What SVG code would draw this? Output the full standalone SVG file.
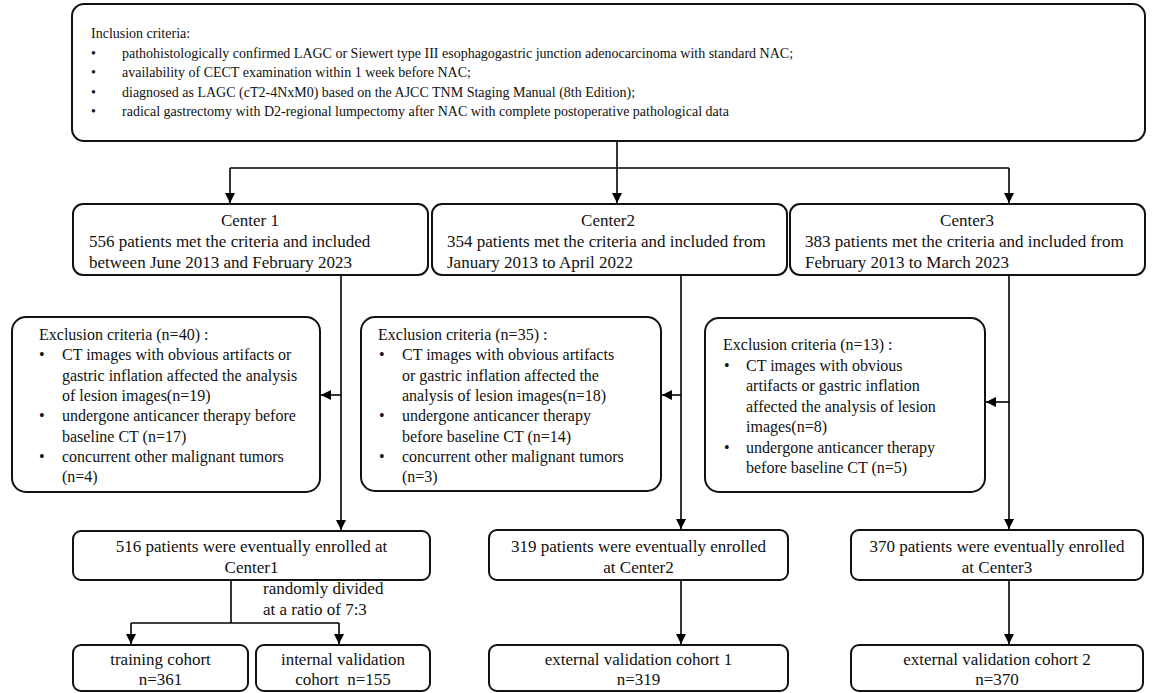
<svg xmlns="http://www.w3.org/2000/svg" width="1154" height="693" viewBox="0 0 1154 693">
<defs>
<marker id="ah" viewBox="0 0 10 10" refX="10" refY="5" markerWidth="10" markerHeight="10" markerUnits="userSpaceOnUse" orient="auto"><path d="M0,0 L10,5 L0,10 z" fill="#000"/></marker>
<style>
.box{fill:#fff;stroke:#111;stroke-width:2}
.t{font-family:"Liberation Serif","Times New Roman",serif;fill:#111}
.s14{font-size:14px}
.s16{font-size:16px}
.s17{font-size:17px}
.c{text-anchor:middle}
.con path{fill:none;stroke:#000;stroke-width:1.6}
.arr{marker-end:url(#ah)}
</style>
</defs>
<rect width="1154" height="693" fill="#fff"/>

<g id="inclusion">
<rect class="box" x="72" y="4" width="1073" height="137" rx="12"/>
<text class="t s14" x="91" y="38">Inclusion criteria:</text>
<text class="t s14" x="91" y="57.5">•</text><text class="t s14" x="122" y="57.5">pathohistologically confirmed LAGC or Siewert type III esophagogastric junction adenocarcinoma with standard NAC;</text>
<text class="t s14" x="91" y="77">•</text><text class="t s14" x="122" y="77">availability of CECT examination within 1 week before NAC;</text>
<text class="t s14" x="91" y="96.5">•</text><text class="t s14" x="122" y="96.5">diagnosed as LAGC (cT2-4NxM0) based on the AJCC TNM Staging Manual (8th Edition);</text>
<text class="t s14" x="91" y="116">•</text><text class="t s14" x="122" y="116">radical gastrectomy with D2-regional lumpectomy after NAC with complete postoperative pathological data</text>
</g>

<g id="center1">
<rect class="box" x="73" y="204" width="355" height="71" rx="10"/>
<text class="t s17 c" x="250" y="226">Center 1</text>
<text class="t s17" x="89" y="247">556 patients met the criteria and included</text>
<text class="t s17" x="89" y="267.5">between June 2013 and February 2023</text>
</g>
<g id="center2">
<rect class="box" x="432" y="204" width="355" height="71" rx="10"/>
<text class="t s17 c" x="608" y="226">Center2</text>
<text class="t s17" x="447" y="247">354 patients met the criteria and included from</text>
<text class="t s17" x="447" y="267.5">January 2013 to April 2022</text>
</g>
<g id="center3">
<rect class="box" x="790" y="204" width="355" height="71" rx="10"/>
<text class="t s17 c" x="967" y="226">Center3</text>
<text class="t s17" x="805" y="247">383 patients met the criteria and included from</text>
<text class="t s17" x="805" y="267.5">February 2013 to March 2023</text>
</g>

<g id="exclusion1">
<rect class="box" x="12" y="317" width="308" height="175" rx="14"/>
<text class="t s16" x="39" y="340">Exclusion criteria (n=40) :</text>
<text class="t s16" x="39" y="360.3">•</text><text class="t s16" x="62" y="360.3">CT images with obvious artifacts or</text>
<text class="t s16" x="62" y="380.6">gastric inflation affected the analysis</text>
<text class="t s16" x="62" y="400.9">of lesion images(n=19)</text>
<text class="t s16" x="39" y="421.2">•</text><text class="t s16" x="62" y="421.2">undergone anticancer therapy before</text>
<text class="t s16" x="62" y="441.5">baseline CT (n=17)</text>
<text class="t s16" x="39" y="461.8">•</text><text class="t s16" x="62" y="461.8">concurrent other malignant tumors</text>
<text class="t s16" x="62" y="482.1">(n=4)</text>
</g>
<g id="exclusion2">
<rect class="box" x="361" y="317" width="300" height="174" rx="14"/>
<text class="t s16" x="378" y="340">Exclusion criteria (n=35) :</text>
<text class="t s16" x="379" y="360.3">•</text><text class="t s16" x="402" y="360.3">CT images with obvious artifacts</text>
<text class="t s16" x="402" y="380.6">or gastric inflation affected the</text>
<text class="t s16" x="402" y="400.9">analysis of lesion images(n=18)</text>
<text class="t s16" x="379" y="421.2">•</text><text class="t s16" x="402" y="421.2">undergone anticancer therapy</text>
<text class="t s16" x="402" y="441.5">before baseline CT (n=14)</text>
<text class="t s16" x="379" y="461.8">•</text><text class="t s16" x="402" y="461.8">concurrent other malignant tumors</text>
<text class="t s16" x="402" y="482.1">(n=3)</text>
</g>
<g id="exclusion3">
<rect class="box" x="705" y="318" width="280" height="174" rx="14"/>
<text class="t s16" x="723" y="350">Exclusion criteria (n=13) :</text>
<text class="t s16" x="724" y="370.5">•</text><text class="t s16" x="746" y="370.5">CT images with obvious</text>
<text class="t s16" x="746" y="391">artifacts or gastric inflation</text>
<text class="t s16" x="746" y="411.5">affected the analysis of lesion</text>
<text class="t s16" x="746" y="432">images(n=8)</text>
<text class="t s16" x="724" y="452.5">•</text><text class="t s16" x="746" y="452.5">undergone anticancer therapy</text>
<text class="t s16" x="746" y="473">before baseline CT (n=5)</text>
</g>

<g id="enrolled1">
<rect class="box" x="73" y="531" width="357" height="49" rx="8"/>
<text class="t s17 c" x="251.5" y="552">516 patients were eventually enrolled at</text>
<text class="t s17 c" x="251.5" y="572.5">Center1</text>
</g>
<g id="enrolled2">
<rect class="box" x="489" y="530" width="299" height="50" rx="8"/>
<text class="t s17 c" x="638.5" y="552">319 patients were eventually enrolled</text>
<text class="t s17 c" x="638.5" y="572.5">at Center2</text>
</g>
<g id="enrolled3">
<rect class="box" x="851" y="530" width="292" height="50" rx="8"/>
<text class="t s17 c" x="997" y="552">370 patients were eventually enrolled</text>
<text class="t s17 c" x="997" y="572.5">at Center3</text>
</g>

<g id="split-label">
<text class="t s17" x="263" y="594">randomly divided</text>
<text class="t s17" x="263" y="615">at a ratio of 7:3</text>
</g>

<g id="training">
<rect class="box" x="73" y="645" width="175" height="46" rx="8"/>
<text class="t s17 c" x="160.5" y="665">training cohort</text>
<text class="t s17 c" x="160.5" y="685">n=361</text>
</g>
<g id="internal">
<rect class="box" x="256" y="645" width="174" height="46" rx="8"/>
<text class="t s17 c" x="343" y="665">internal validation</text>
<text class="t s17 c" x="343" y="685" style="white-space:pre">cohort  n=155</text>
</g>
<g id="external1">
<rect class="box" x="489" y="645" width="299" height="46" rx="8"/>
<text class="t s17 c" x="638.5" y="665">external validation cohort 1</text>
<text class="t s17 c" x="638.5" y="685">n=319</text>
</g>
<g id="external2">
<rect class="box" x="851" y="645" width="292" height="46" rx="8"/>
<text class="t s17 c" x="997" y="665">external validation cohort 2</text>
<text class="t s17 c" x="997" y="685">n=370</text>
</g>

<g id="connectors" class="con">
<path class="arr" d="M617,141 V203"/>
<path d="M230,168 H1009"/>
<path class="arr" d="M230,168 V203"/>
<path class="arr" d="M1009,168 V203"/>
<path class="arr" d="M341,275 V530"/>
<path class="arr" d="M341,395 H321"/>
<path class="arr" d="M681,275 V529"/>
<path class="arr" d="M681,395 H662"/>
<path class="arr" d="M1009,275 V529"/>
<path class="arr" d="M1009,402 H986"/>
<path d="M231,580 V623"/>
<path d="M131,623 H339"/>
<path class="arr" d="M131,623 V644"/>
<path class="arr" d="M339,623 V644"/>
<path class="arr" d="M681,580 V644"/>
<path class="arr" d="M1009,580 V644"/>
</g>
</svg>
